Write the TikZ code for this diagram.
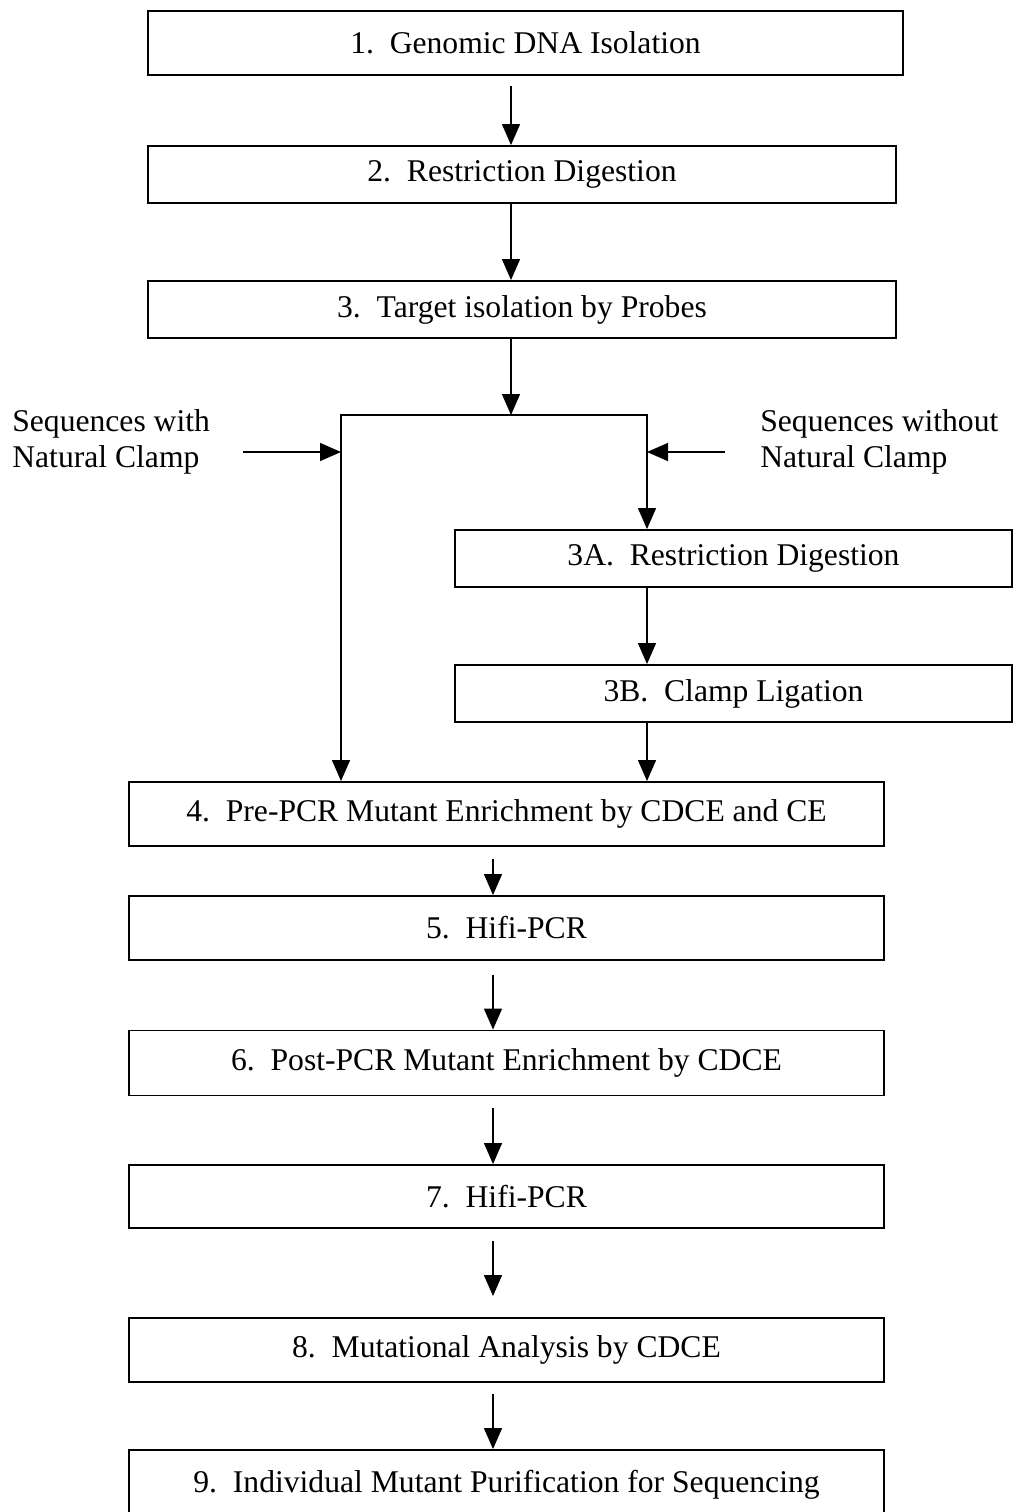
\documentclass[tikz,border=0pt]{standalone}
\usepackage{fontspec}
\setmainfont{Liberation Serif}
\usetikzlibrary{arrows.meta}
\tikzset{
  sbox/.style={rectangle, draw, line width=1.1pt, inner sep=0pt,
               font=\fontsize{18}{20.5}\selectfont, minimum width=15.1cm, minimum height=1.28cm},
  sarr/.style={-{Triangle[length=4.2mm,width=3.6mm]}, line width=0.8pt},
  slbl/.style={anchor=west, align=left, inner sep=0pt, font=\fontsize{18}{20.5}\selectfont},
}

\begin{document}
\begin{tikzpicture}[x=0.02cm,y=-0.02cm]
        \useasboundingbox (0,0) rectangle (1013,1512);
        \node[sbox](dna) at (525.5,43){1.\enspace Genomic DNA Isolation};
        \node[sbox,minimum width=14.96cm,minimum height=1.14cm](dig) at (522,174.5){2.\enspace Restriction Digestion};
        \node[sbox,minimum width=14.96cm,minimum height=1.14cm](prb) at (522,309.5){3.\enspace Target isolation by Probes};
        \node[sbox,minimum width=11.14cm,minimum height=1.14cm](digA) at (733.5,558.5){3A.\enspace Restriction Digestion};
        \node[sbox,minimum width=11.14cm,minimum height=1.14cm](lig) at (733.5,693.5){3B.\enspace Clamp Ligation};
        \node[sbox](pre) at (506.5,814){4.\enspace Pre-PCR Mutant Enrichment by CDCE and CE};
        \node[sbox](hfa) at (506.5,928){5.\enspace Hifi-PCR};
        \node[sbox,minimum height=1.3cm](post) at (506.5,1063){6.\enspace Post-PCR Mutant Enrichment by CDCE};
        \node[sbox,minimum height=1.26cm](hfb) at (506.5,1196.5){7.\enspace Hifi-PCR};
        \node[sbox](mut) at (506.5,1350){8.\enspace Mutational Analysis by CDCE};
        \node[sbox,minimum height=1.4cm](pur) at (506.5,1485){9.\enspace Individual Mutant Purification for Sequencing};
        \node[slbl](wcl) at (12,442){Sequences with\\Natural Clamp};
        \node[slbl](ncl) at (760,442){Sequences without\\Natural Clamp};
        \coordinate(ca) at (511,0);\coordinate(cb) at (493,0);
        \coordinate(sp) at (511,415);\coordinate(spl) at (341,415);\coordinate(spr) at (647,415);
        \coordinate(inl) at (243,452);\coordinate(inr) at (725,452);
        \draw[sarr,shorten <=0.2cm](dna.south -| ca)--(dig.north -| ca);\draw[sarr](dig.south -| ca)--(prb.north -| ca);
        \draw[sarr](prb.south -| ca)--(sp);
        \draw[sarr](sp)-|(pre.north -| spl);\draw[sarr](sp)-|(digA.north -| spr);
        \draw[sarr](inl)--(inl -| spl);\draw[sarr](inr)--(inr -| spr);
        \draw[sarr](digA.south -| spr)--(lig.north -| spr);\draw[sarr](lig.south -| spr)--(pre.north -| spr);
        \draw[sarr,shorten <=0.24cm](pre.south -| cb)--(hfa.north -| cb);
        \draw[sarr,shorten <=0.28cm](hfa.south -| cb)--(post.north -| cb);
        \draw[sarr,shorten <=0.24cm](post.south -| cb)--(hfb.north -| cb);
        \draw[sarr,shorten <=0.24cm,shorten >=0.42cm](hfb.south -| cb)--(mut.north -| cb);
        \draw[sarr,shorten <=0.22cm](mut.south -| cb)--(pur.north -| cb);
    \end{tikzpicture}
\end{document}
